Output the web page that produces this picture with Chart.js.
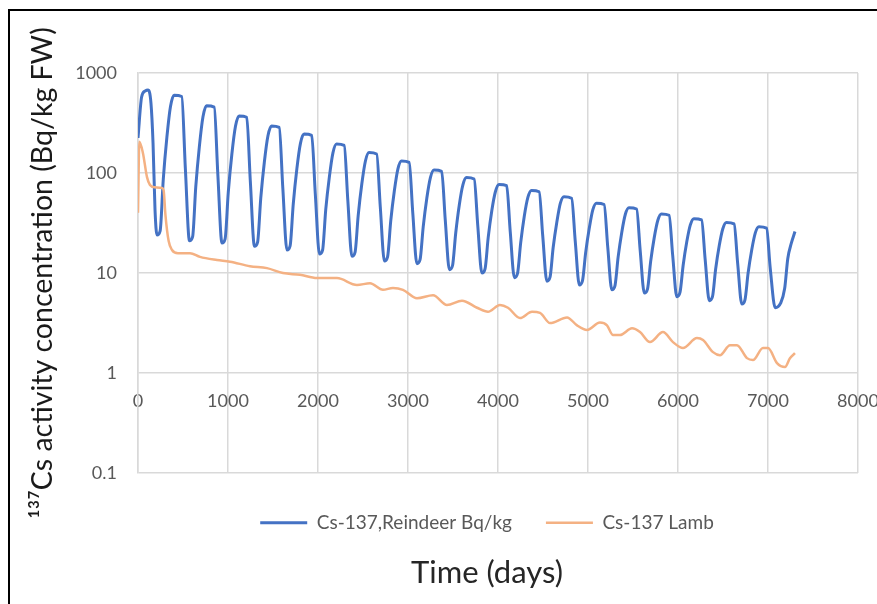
<!DOCTYPE html>
<html lang="en">
<head>
<meta charset="UTF-8">
<title>Cs-137 Reindeer and Lamb</title>
<script src="https://cdn.jsdelivr.net/npm/chart.js"></script>
<style>
    html, body { margin: 0; padding: 0; background: #fff; }
    #frame { position: absolute; left: 8px; top: 9px; width: 869px; height: 595px;
             border-top: 2px solid #000; border-left: 2px solid #000; box-sizing: border-box; }
    #chart { position: absolute; left: 0; top: 0; }
</style>
</head>
<body>
<div id="frame"></div>
<canvas id="chart" width="877" height="604"></canvas>
<script>
    // Reindeer (Bq/kg), day / value pairs
    const reindeerDays = [0, 40, 80, 111, 144, 167, 189,
        211, 246, 281, 321, 361, 401, 486, 526,
        572, 607, 642, 682, 722, 762, 847, 887,
        933, 968, 1003, 1043, 1083, 1123, 1208, 1248,
        1294, 1329, 1364, 1404, 1444, 1484, 1569, 1609,
        1655, 1690, 1725, 1765, 1805, 1845, 1930, 1970,
        2016, 2051, 2086, 2126, 2166, 2206, 2291, 2331,
        2377, 2412, 2447, 2487, 2527, 2567, 2652, 2692,
        2738, 2773, 2808, 2848, 2888, 2928, 3013, 3053,
        3099, 3134, 3169, 3209, 3249, 3289, 3374, 3414,
        3460, 3495, 3530, 3570, 3610, 3650, 3735, 3775,
        3821, 3856, 3891, 3931, 3971, 4011, 4096, 4136,
        4182, 4217, 4252, 4292, 4332, 4372, 4457, 4497,
        4543, 4578, 4613, 4653, 4693, 4733, 4818, 4858,
        4904, 4939, 4974, 5014, 5054, 5094, 5179, 5219,
        5265, 5300, 5335, 5375, 5415, 5455, 5540, 5580,
        5626, 5661, 5696, 5736, 5776, 5816, 5901, 5941,
        5987, 6022, 6057, 6097, 6137, 6177, 6262, 6302,
        6348, 6383, 6418, 6458, 6498, 6538, 6623, 6663,
        6709, 6744, 6779, 6819, 6859, 6899, 6984, 7024,
        7080, 7140, 7185, 7220, 7260, 7300];
    const reindeerValues = [224, 575, 660, 676, 500, 200, 43,
        24, 26.4, 87, 228, 463, 600, 582, 112,
        21, 23.1, 73, 185, 366, 470, 456, 97,
        20, 22, 64, 155, 294, 372, 361, 83,
        18.5, 20.4, 56, 129, 236, 295, 286, 71,
        17, 18.7, 49, 110, 198, 245, 238, 62,
        15.5, 17, 43, 91, 159, 195, 189, 54,
        14.7, 16.2, 38, 78, 132, 160, 155, 46,
        13.2, 14.5, 33, 66, 110, 132, 128, 40,
        12.4, 13.6, 29, 56, 90, 107, 104, 34,
        10.8, 11.9, 25, 48, 76, 90, 87, 30,
        10, 11, 22.6, 42, 65, 77, 75, 26,
        9, 9.9, 20, 37, 57, 67, 65, 23.6,
        8.3, 9.1, 18, 32, 50, 58, 56, 21,
        7.6, 8.4, 16, 28, 43, 50, 48.5, 18.4,
        6.8, 7.5, 14.5, 25.5, 38.7, 45, 43.7, 16.8,
        6.3, 6.9, 13, 22.6, 33.7, 39, 37.8, 15,
        5.8, 6.4, 11.9, 20.4, 30.3, 35, 34, 13.6,
        5.3, 5.8, 10.9, 18.7, 27.7, 32, 31, 12.5,
        4.9, 5.4, 10, 17, 25.2, 29, 28.1, 11.4,
        4.5, 5.0, 7, 14, 20, 26];

    // Lamb
    const lambDays = [0, 15, 55, 100, 133, 189, 267, 285, 305, 340, 378, 444, 578, 689, 878,
        1022, 1244, 1433, 1611, 1800, 1989, 2211, 2433, 2578, 2722, 2833, 2944, 3100, 3278,
        3433, 3600, 3767, 3889, 4022, 4111, 4244, 4378, 4467, 4578, 4767, 4878, 4989, 5133,
        5211, 5278, 5355, 5489, 5578, 5689, 5833, 5944, 6055, 6211, 6278, 6389, 6466, 6578,
        6655, 6766, 6833, 6944, 7000, 7100, 7189, 7244, 7300];
    const lambValues = [40, 205, 158, 91, 76, 72, 71, 67, 38, 21, 17, 15.8, 15.8, 14.5, 13.5,
        13, 11.7, 11.2, 10, 9.6, 8.9, 8.9, 7.6, 7.9, 6.8, 7.1, 6.8, 5.6, 6,
        4.8, 5.3, 4.5, 4.1, 4.8, 4.5, 3.55, 4.1, 4.0, 3.16, 3.6, 3.0, 2.7, 3.2,
        3.0, 2.4, 2.4, 2.8, 2.57, 2.04, 2.57, 2.04, 1.78, 2.24, 2.14, 1.62, 1.51, 1.9,
        1.9, 1.41, 1.35, 1.78, 1.78, 1.26, 1.15, 1.41, 1.58];

    const seriesNames = ['Cs-137,Reindeer Bq/kg', 'Cs-137 Lamb'];
    const xTicks = [0, 1000, 2000, 3000, 4000, 5000, 6000, 7000, 8000];
    const yTicks = [0.1, 1, 10, 100, 1000];

    const toPoints = (xs, ys) => xs.map((x, i) => ({ x: x, y: ys[i] }));
    const gridColor = '#d9d9d9';
    const font = 'Lato';

    // legend and x title sit centred a little right of the canvas middle
    const shiftBottom = {
        id: 'shiftBottom',
        afterLayout(chart) {
            [chart.legend, chart.titleBlock].forEach(b => {
                const dx = 487 - (b.left + b.right) / 2;
                b.left += dx; b.right += dx;
            });
        }
    };

    new Chart(document.getElementById('chart'), {
        type: 'line',
        data: {
            datasets: [{
                label: seriesNames[0],
                data: toPoints(reindeerDays, reindeerValues),
                borderColor: '#4472C4',
                backgroundColor: '#4472C4',
                borderWidth: 3,
                pointRadius: 0,
                cubicInterpolationMode: 'monotone',
                order: 1
            }, {
                label: seriesNames[1],
                data: toPoints(lambDays, lambValues),
                borderColor: '#F4B183',
                backgroundColor: '#F4B183',
                borderWidth: 2.5,
                pointRadius: 0,
                cubicInterpolationMode: 'monotone',
                order: 0
            }]
        },
        options: {
            responsive: false,
            devicePixelRatio: 1,
            animation: false,
            layout: { padding: { left: 25, right: 19, top: 73, bottom: 12 } },
            scales: {
                x: {
                    type: 'linear',
                    min: 0, max: 8000,
                    position: { y: 1 },
                    afterBuildTicks: s => { s.ticks = xTicks.map(v => ({ value: v })); },
                    afterFit: s => { s.paddingLeft = 0; s.paddingRight = 0; },
                    ticks: { callback: v => String(v), color: '#595959', padding: 17,
                             font: { family: font, size: 18 }, maxRotation: 0 },
                    grid: { color: gridColor, lineWidth: 1.5, drawTicks: false },
                    border: { display: false }
                },
                y: {
                    type: 'logarithmic',
                    min: 0.1, max: 1000,
                    afterBuildTicks: s => { s.ticks = yTicks.map(v => ({ value: v })); },
                    afterFit: s => { s.width = 113; },
                    ticks: { callback: v => String(v), color: '#595959', padding: 21,
                             font: { family: font, size: 18 } },
                    grid: { color: gridColor, lineWidth: 1.5, drawTicks: false },
                    border: { color: gridColor, width: 1.5 },
                    title: { display: true, text: '¹³⁷Cs activity concentration (Bq/kg FW)',
                             color: '#1a1a1a', font: { family: font, size: 28.5 },
                             padding: { top: 1, bottom: 0 } }
                }
            },
            plugins: {
                legend: {
                    position: 'bottom',
                    title: { display: true, text: '', font: { size: 1 }, padding: { top: 5, bottom: 0 } },
                    labels: {
                        boxWidth: 47, boxHeight: 0, padding: 34, color: '#595959',
                        font: { family: font, size: 19 },
                        sort: (a, b) => a.datasetIndex - b.datasetIndex
                    }
                },
                title: {
                    display: true, position: 'bottom', text: 'Time (days)',
                    color: '#262626', font: { family: font, size: 31, weight: 'normal' },
                    padding: { top: 12.5, bottom: 0 }
                },
                tooltip: { enabled: false }
            }
        },
        plugins: [shiftBottom]
    });
</script>
</body>
</html>
